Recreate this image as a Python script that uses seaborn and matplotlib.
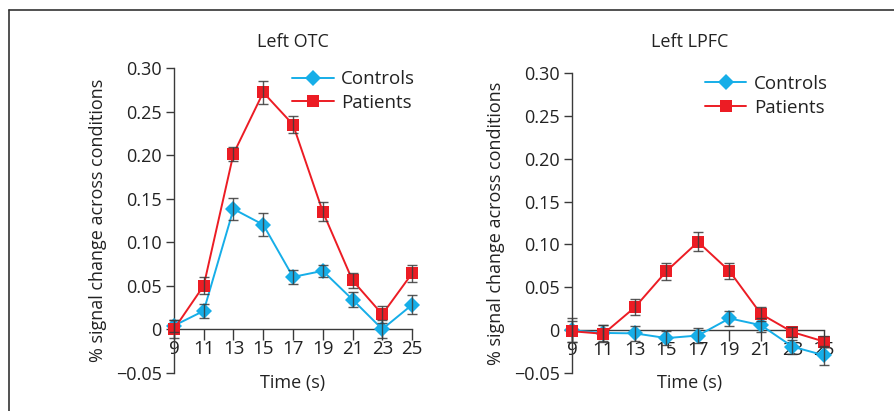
import numpy as np
import pandas as pd
import matplotlib
matplotlib.use("Agg")
import matplotlib.pyplot as plt
from matplotlib.lines import Line2D
import seaborn as sns

# time points (s)
time = [9, 11, 13, 15, 17, 19, 21, 23, 25]

# Left OTC
otc_controls = [0.004, 0.021, 0.138, 0.120, 0.060, 0.067, 0.034, 0.000, 0.028]
otc_controls_err = [0.007, 0.008, 0.0125, 0.013, 0.008, 0.007, 0.009, 0.010, 0.011]
otc_patients = [0.000, 0.050, 0.2015, 0.272, 0.235, 0.135, 0.056, 0.017, 0.064]
otc_patients_err = [0.010, 0.010, 0.008, 0.013, 0.010, 0.011, 0.009, 0.010, 0.010]

# Left LPFC
lpfc_controls = [0.000, -0.003, -0.0035, -0.009, -0.006, 0.014, 0.006, -0.019, -0.029]
lpfc_controls_err = [0.014, 0.009, 0.009, 0.008, 0.009, 0.009, 0.008, 0.008, 0.011]
lpfc_patients = [-0.001, -0.004, 0.027, 0.069, 0.103, 0.069, 0.019, -0.002, -0.013]
lpfc_patients_err = [0.012, 0.010, 0.009, 0.010, 0.011, 0.009, 0.008, 0.006, 0.006]

titles = ["Left OTC", "Left LPFC"]
yticks = [-0.05, 0, 0.05, 0.10, 0.15, 0.20, 0.25, 0.30]
ytick_labels = ["\u22120.05", "0", "0.05", "0.10", "0.15", "0.20", "0.25", "0.30"]

blue = "#16aee8"
red = "#ec1c24"
dark = "#3a3a3a"
txt = "#222222"

sns.set_style("ticks")
plt.rcParams["font.family"] = ["Open Sans", "DejaVu Sans"]

fig = plt.figure(figsize=(8.94, 4.11), dpi=100)
ax1 = fig.add_axes([0.1946, 0.0932, 0.2663, 0.7413])
ax2 = fig.add_axes([0.6398, 0.0917, 0.2819, 0.7313])

panels = [
    (ax1, otc_controls, otc_controls_err, otc_patients, otc_patients_err),
    (ax2, lpfc_controls, lpfc_controls_err, lpfc_patients, lpfc_patients_err),
]

for ax, c, ce, p, pe in panels:
    df = pd.DataFrame({
        "time": time * 2,
        "value": c + p,
        "group": ["Controls"] * len(time) + ["Patients"] * len(time),
    })
    # spines first: set_position resets the tick styling
    ax.spines["top"].set_visible(False)
    ax.spines["right"].set_visible(False)
    ax.spines["bottom"].set_position(("data", 0))
    for s in ["left", "bottom"]:
        ax.spines[s].set_color(dark)
        ax.spines[s].set_linewidth(1.0)
        ax.spines[s].set_zorder(1)

    sns.lineplot(data=df, x="time", y="value", hue="group", style="group",
                 palette={"Controls": blue, "Patients": red},
                 markers={"Controls": "D", "Patients": "s"},
                 dashes=False, markersize=8, markeredgewidth=0,
                 linewidth=1.4, ax=ax, zorder=3, clip_on=False)
    # error bars drawn on top of the markers
    for vals, errs in [(c, ce), (p, pe)]:
        eb = ax.errorbar(time, vals, yerr=errs, fmt="none", ecolor=dark, elinewidth=1.0,
                         capsize=3.5, capthick=1.0, zorder=4, alpha=0.85)
        for art in eb.lines[1] + eb.lines[2]:
            art.set_clip_on(False)
    ax.set_xlim(9, 25)
    ax.set_ylim(-0.05, 0.30)
    ax.set_xticks(time)
    ax.set_xticklabels([str(t) for t in time], fontsize=13.5, color=txt)
    ax.set_yticks(yticks)
    ax.set_yticklabels(ytick_labels, fontsize=13, color=txt)
    ax.tick_params(axis="x", direction="out", length=8, width=1.0, color=dark, pad=0)
    ax.tick_params(axis="y", direction="out", length=6, width=1.0, color=dark, pad=3)
    ax.set_xlabel("")
    ax.set_ylabel("% signal change across conditions", fontsize=13, color=txt, labelpad=6)
    leg = ax.legend(loc="upper right", bbox_to_anchor=(1.06, 1.03), frameon=False,
                    fontsize=13.5, handlelength=2.2, handletextpad=0.4,
                    labelspacing=0.3, borderaxespad=0.2)
    for t in leg.get_texts():
        t.set_color(txt)

# titles and x labels
fig.text(293 / 894, 1 - 42 / 411, titles[0], ha="center", va="center", fontsize=13, color=txt)
fig.text(690 / 894, 1 - 42 / 411, titles[1], ha="center", va="center", fontsize=13, color=txt)
fig.text(293 / 894, 1 - 383 / 411, "Time (s)", ha="center", va="center", fontsize=13, color=txt)
fig.text(690 / 894, 1 - 383 / 411, "Time (s)", ha="center", va="center", fontsize=13, color=txt)

# frame lines (top and left)
fig.add_artist(Line2D([9 / 894, 1.0], [1 - 10 / 411, 1 - 10 / 411], color="#333333", lw=1.2))
fig.add_artist(Line2D([9 / 894, 9 / 894], [0.0, 1 - 10 / 411], color="#333333", lw=1.2))

fig.savefig("out.png", dpi=100)
